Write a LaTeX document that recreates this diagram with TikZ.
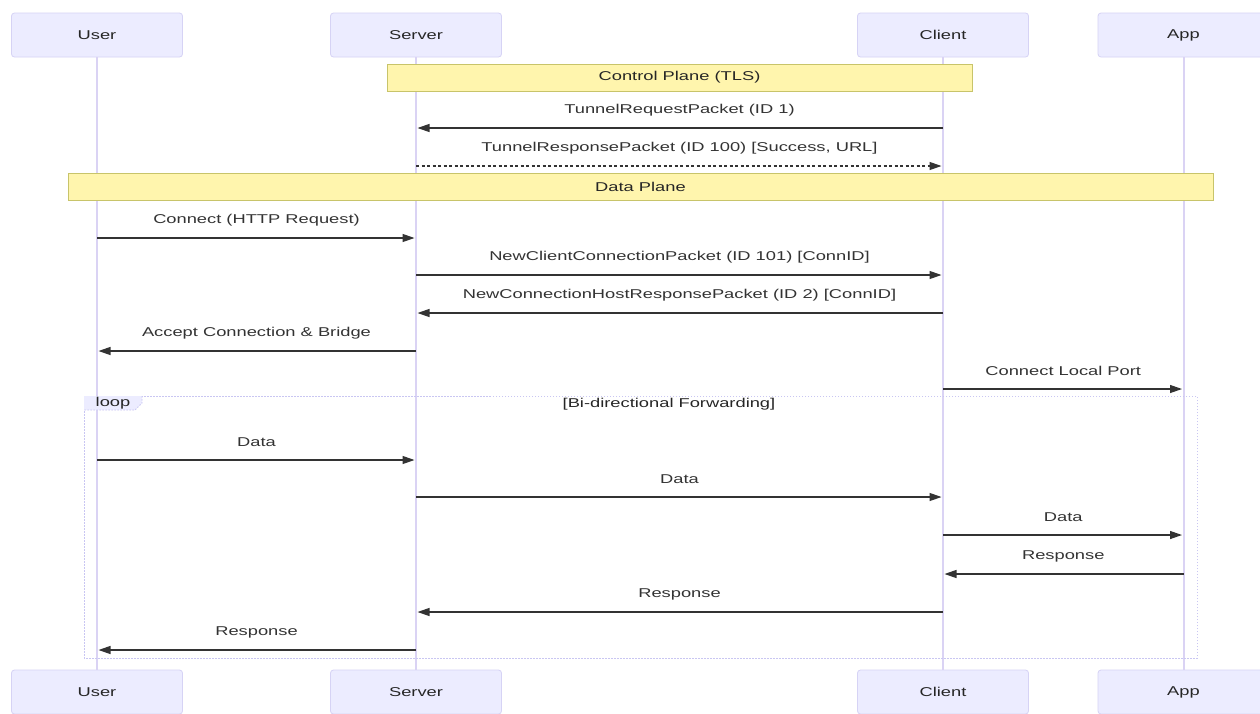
\documentclass[tikz,border=0pt]{standalone}
\usepackage{fontspec}
\setmainfont[FakeStretch=1.43]{Liberation Sans}
\usetikzlibrary{arrows.meta}
\definecolor{actfill}{HTML}{ECECFF}
\definecolor{actdraw}{HTML}{D6D3F5}
\definecolor{life}{HTML}{DAD3F4}
\definecolor{notefill}{HTML}{FFF5AD}
\definecolor{notedraw}{HTML}{C8C46A}
\definecolor{msgc}{HTML}{333333}
\definecolor{loopc}{HTML}{C9C6F2}
\begin{document}
\begin{tikzpicture}[x=1pt,y=-1pt,
  actor/.style={draw=actdraw, fill=actfill, rounded corners=3pt, line width=0.8pt,
    minimum width=171pt, minimum height=44pt, inner sep=0pt,
    font=\fontsize{12.8}{15}\selectfont, text=black!85},
  lifeline/.style={draw=life, line width=2pt},
  note/.style={draw=notedraw, fill=notefill, line width=0.8pt, inner sep=0pt,
    font=\fontsize{12.8}{15}\selectfont, text=black!85},
  msg/.style={draw=msgc, line width=1.2pt, shorten >=1.5pt,
    -{Triangle[length=12pt,width=8pt]}},
  dmsg/.style={msg, dash pattern=on 3pt off 2.5pt},
  lab/.style={font=\fontsize{12.8}{15}\selectfont, text=msgc, yshift=18pt, inner sep=0pt},
  loopframe/.style={draw=loopc, line width=0.8pt, dash pattern=on 1.5pt off 1.5pt},
  looptext/.style={font=\fontsize{12.8}{15}\selectfont, text=black!85, inner sep=0pt}
]
\useasboundingbox (0,0) rectangle (1260,713);
\fill[white] (0,0) rectangle (1260,713);

% actors top
\node[actor] (user)   at (97,35)    {User};
\node[actor] (server) at (416,35)   {Server};
\node[actor] (client) at (943,35)   {Client};
\node[actor] (app)    at (1183.5,35) {App};
% actors bottom
\node[actor] (userb)   at (97,692)    {User};
\node[actor] (serverb) at (416,692)   {Server};
\node[actor] (clientb) at (943,692)   {Client};
\node[actor] (appb)    at (1183.5,692) {App};

% lifelines
\draw[lifeline] (user.south) -- (userb.north);
\draw[lifeline] (server.south) -- (serverb.north);
\draw[lifeline] (client.south) -- (clientb.north);
\draw[lifeline] (app.south) -- (appb.north);

% notes
\node[note, minimum width=585pt, minimum height=27pt] (ctrl) at (679.5,77.5) {Control Plane (TLS)};
\node[note, minimum width=1145pt, minimum height=27pt] (data) at (640.5,186.5) {Data Plane};

% loop frame
\coordinate (loopTL) at (84,396);
\coordinate (loopBR) at (1197,658);
\draw[loopframe] (loopTL) rectangle (loopBR);
\fill[actfill] (84,396) -- (142,396) -- (142,403) -- (135,410) -- (84,410) -- cycle;
\draw[loopframe] (142,396) -- (142,403) -- (135,410) -- (84,410);
\node[looptext] (looplab) at (113,403) {loop};
\node[looptext] (loopcond) at (669,404) {[Bi-directional Forwarding]};

% messages
\foreach \f/\t/\yy/\lab/\st in {
  client/server/128/{TunnelRequestPacket (ID 1)}/msg,
  server/client/166/{TunnelResponsePacket (ID 100) [Success, URL]}/dmsg,
  user/server/238/{Connect (HTTP Request)}/msg,
  server/client/275/{NewClientConnectionPacket (ID 101) [ConnID]}/msg,
  client/server/313/{NewConnectionHostResponsePacket (ID 2) [ConnID]}/msg,
  server/user/351/{Accept Connection \& Bridge}/msg,
  client/app/389/{Connect Local Port}/msg,
  user/server/460/{Data}/msg,
  server/client/497/{Data}/msg,
  client/app/535/{Data}/msg,
  app/client/574/{Response}/msg,
  client/server/612/{Response}/msg,
  server/user/650/{Response}/msg}{
  \coordinate (m) at (0,\yy);
  \draw[\st] (\f |- m) -- (\t |- m) node[midway, lab] {\lab};
}
\end{tikzpicture}
\end{document}
